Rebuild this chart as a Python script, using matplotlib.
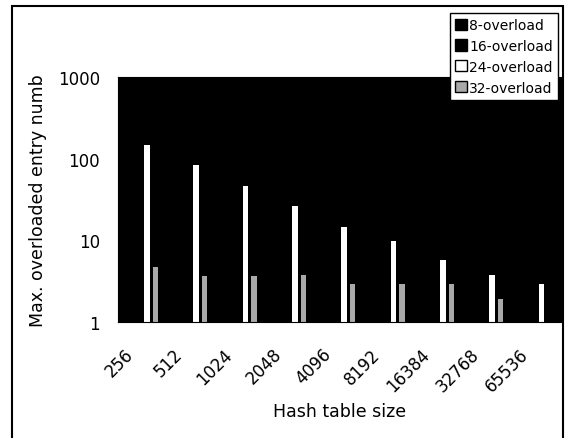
import matplotlib
matplotlib.use("Agg")
import matplotlib.pyplot as plt
import matplotlib.patches as mpatches
import matplotlib.transforms as mtransforms
import numpy as np

plt.rcParams['font.family'] = ['DejaVu Sans']

sizes = ["256", "512", "1024", "2048", "4096", "8192", "16384", "32768", "65536"]
series_names = ["8-overload", "16-overload", "24-overload", "32-overload"]
ov8 = [600, 400, 250, 150, 90, 60, 35, 20, 12]
ov16 = [300, 200, 110, 65, 38, 24, 14, 8, 5]
ov24 = [147, 84, 46.5, 26.5, 14.5, 9.8, 5.7, 3.8, 2.9]
ov32 = [4.7, 3.7, 3.7, 3.75, 2.9, 2.95, 2.9, 1.9, 1.0]

fig = plt.figure(figsize=(5.67, 4.39), dpi=100)
ax = fig.add_axes([118/567, 1-323/439, (562-118)/567, (323-78)/439])
ax.set_facecolor('black')

x = np.arange(len(sizes))
step = 0.172
w = 0.112
styles = [dict(color='black', edgecolor='black'),
          dict(color='black', edgecolor='black'),
          dict(color='white', edgecolor='white'),
          dict(color='#a9a9a9', edgecolor='#a9a9a9')]
data = [ov8, ov16, ov24, ov32]
for i, (vals, st) in enumerate(zip(data, styles)):
    ax.bar(x + (i - 1.5) * step, vals, width=w, bottom=0, linewidth=0, **st)

ax.set_yscale('log')
ax.set_ylim(1, 1000)
ax.set_xlim(-0.5, len(sizes) - 0.5)
ax.set_yticks([1, 10, 100, 1000])
ax.set_yticklabels(["1", "10", "100", "1000"])
ax.yaxis.set_minor_locator(matplotlib.ticker.NullLocator())
ax.set_xticks(x)
ax.set_xticklabels(sizes, rotation=45, ha='right', va='center',
                   rotation_mode='anchor')
ax.tick_params(axis='both', length=0, labelsize=12)
ax.tick_params(axis='x', pad=21)
ax.tick_params(axis='y', pad=13)
off = mtransforms.ScaledTranslation(-12/100, 0, fig.dpi_scale_trans)
for lab in ax.get_xticklabels():
    lab.set_transform(lab.get_transform() + off)
for s in ax.spines.values():
    s.set_color('black')
ax.set_xlabel("Hash table size", fontsize=12.5, labelpad=5)
ax.set_ylabel("Max. overloaded entry numb", fontsize=12.5, labelpad=8)

handles = [mpatches.Patch(facecolor='black', edgecolor='black'),
           mpatches.Patch(facecolor='black', edgecolor='black'),
           mpatches.Patch(facecolor='white', edgecolor='black'),
           mpatches.Patch(facecolor='#a9a9a9', edgecolor='black')]
leg = fig.legend(handles, series_names, loc='upper right',
                 bbox_to_anchor=(558/567, 1-14/439), fontsize=10,
                 frameon=True, fancybox=False, edgecolor='black',
                 handlelength=0.85, handleheight=0.85, handletextpad=0.2,
                 borderpad=0.35, labelspacing=0.5, borderaxespad=0)
leg.get_frame().set_linewidth(1.0)
leg.get_frame().set_alpha(1)

frame = mpatches.Rectangle((12/567, -0.05), (563-12)/567, 1.05 - 7/439,
                           transform=fig.transFigure, fill=False,
                           edgecolor='black', linewidth=1.5)
fig.patches.append(frame)

fig.savefig("out.png", dpi=100)
